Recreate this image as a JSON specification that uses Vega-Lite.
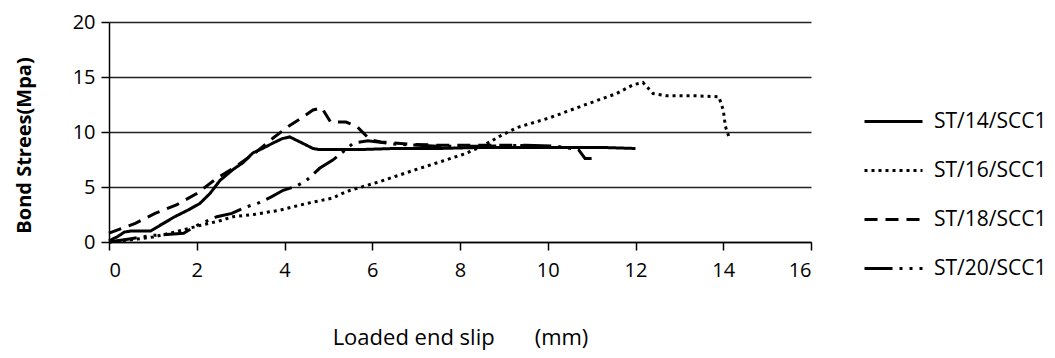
{
  "$schema": "https://vega.github.io/schema/vega-lite/v6.json",
  "width": 702,
  "height": 220,
  "autosize": {"type": "none"},
  "padding": {"left": 109, "top": 22, "right": 244, "bottom": 116},
  "background": "white",
  "config": {
    "view": {"stroke": null},
    "font": "Open Sans",
    "axis": {
      "domainColor": "#000000",
      "domainWidth": 1.5,
      "tickColor": "#000000",
      "tickWidth": 1.5,
      "tickSize": 8,
      "labelColor": "#000000",
      "labelFont": "Open Sans",
      "labelFontSize": 20,
      "titleColor": "#000000",
      "gridColor": "#222222",
      "gridWidth": 1.5,
      "gridOpacity": 1
    }
  },
  "data": {
    "values": [
      {"series": "ST/14/SCC1", "slip": 0.0, "stress": 0.1},
      {"series": "ST/14/SCC1", "slip": 0.2, "stress": 0.5},
      {"series": "ST/14/SCC1", "slip": 0.35, "stress": 0.9},
      {"series": "ST/14/SCC1", "slip": 0.5, "stress": 1.0},
      {"series": "ST/14/SCC1", "slip": 0.95, "stress": 1.0},
      {"series": "ST/14/SCC1", "slip": 1.2, "stress": 1.6},
      {"series": "ST/14/SCC1", "slip": 1.5, "stress": 2.3},
      {"series": "ST/14/SCC1", "slip": 1.8, "stress": 2.9},
      {"series": "ST/14/SCC1", "slip": 2.07, "stress": 3.5},
      {"series": "ST/14/SCC1", "slip": 2.3, "stress": 4.4},
      {"series": "ST/14/SCC1", "slip": 2.53, "stress": 5.6},
      {"series": "ST/14/SCC1", "slip": 2.83, "stress": 6.6},
      {"series": "ST/14/SCC1", "slip": 3.05, "stress": 7.2},
      {"series": "ST/14/SCC1", "slip": 3.28, "stress": 8.1},
      {"series": "ST/14/SCC1", "slip": 3.5, "stress": 8.5},
      {"series": "ST/14/SCC1", "slip": 3.74, "stress": 9.0},
      {"series": "ST/14/SCC1", "slip": 3.95, "stress": 9.4},
      {"series": "ST/14/SCC1", "slip": 4.12, "stress": 9.55},
      {"series": "ST/14/SCC1", "slip": 4.35, "stress": 9.1},
      {"series": "ST/14/SCC1", "slip": 4.65, "stress": 8.5},
      {"series": "ST/14/SCC1", "slip": 4.8, "stress": 8.4},
      {"series": "ST/14/SCC1", "slip": 5.3, "stress": 8.4},
      {"series": "ST/14/SCC1", "slip": 5.7, "stress": 8.4},
      {"series": "ST/14/SCC1", "slip": 6.5, "stress": 8.5},
      {"series": "ST/14/SCC1", "slip": 7.5, "stress": 8.5},
      {"series": "ST/14/SCC1", "slip": 8.5, "stress": 8.6},
      {"series": "ST/14/SCC1", "slip": 9.5, "stress": 8.6},
      {"series": "ST/14/SCC1", "slip": 10.5, "stress": 8.6},
      {"series": "ST/14/SCC1", "slip": 11.2, "stress": 8.6},
      {"series": "ST/14/SCC1", "slip": 12.0, "stress": 8.5},

      {"series": "ST/16/SCC1", "slip": 0.0, "stress": 0.0},
      {"series": "ST/16/SCC1", "slip": 0.5, "stress": 0.2},
      {"series": "ST/16/SCC1", "slip": 1.0, "stress": 0.45},
      {"series": "ST/16/SCC1", "slip": 1.5, "stress": 0.9},
      {"series": "ST/16/SCC1", "slip": 2.07, "stress": 1.5},
      {"series": "ST/16/SCC1", "slip": 2.5, "stress": 1.9},
      {"series": "ST/16/SCC1", "slip": 2.83, "stress": 2.3},
      {"series": "ST/16/SCC1", "slip": 3.3, "stress": 2.5},
      {"series": "ST/16/SCC1", "slip": 3.6, "stress": 2.7},
      {"series": "ST/16/SCC1", "slip": 3.9, "stress": 2.9},
      {"series": "ST/16/SCC1", "slip": 4.5, "stress": 3.5},
      {"series": "ST/16/SCC1", "slip": 5.1, "stress": 4.0},
      {"series": "ST/16/SCC1", "slip": 5.42, "stress": 4.6},
      {"series": "ST/16/SCC1", "slip": 6.18, "stress": 5.5},
      {"series": "ST/16/SCC1", "slip": 6.93, "stress": 6.5},
      {"series": "ST/16/SCC1", "slip": 7.4, "stress": 7.1},
      {"series": "ST/16/SCC1", "slip": 8.1, "stress": 8.0},
      {"series": "ST/16/SCC1", "slip": 8.5, "stress": 8.7},
      {"series": "ST/16/SCC1", "slip": 8.9, "stress": 9.6},
      {"series": "ST/16/SCC1", "slip": 9.3, "stress": 10.4},
      {"series": "ST/16/SCC1", "slip": 10.05, "stress": 11.3},
      {"series": "ST/16/SCC1", "slip": 10.8, "stress": 12.4},
      {"series": "ST/16/SCC1", "slip": 11.57, "stress": 13.5},
      {"series": "ST/16/SCC1", "slip": 11.95, "stress": 14.3},
      {"series": "ST/16/SCC1", "slip": 12.17, "stress": 14.5},
      {"series": "ST/16/SCC1", "slip": 12.4, "stress": 13.5},
      {"series": "ST/16/SCC1", "slip": 12.7, "stress": 13.3},
      {"series": "ST/16/SCC1", "slip": 13.3, "stress": 13.3},
      {"series": "ST/16/SCC1", "slip": 13.9, "stress": 13.2},
      {"series": "ST/16/SCC1", "slip": 14.0, "stress": 12.0},
      {"series": "ST/16/SCC1", "slip": 14.05, "stress": 10.5},
      {"series": "ST/16/SCC1", "slip": 14.15, "stress": 9.3},

      {"series": "ST/18/SCC1", "slip": 0.0, "stress": 0.8},
      {"series": "ST/18/SCC1", "slip": 0.6, "stress": 1.7},
      {"series": "ST/18/SCC1", "slip": 1.05, "stress": 2.6},
      {"series": "ST/18/SCC1", "slip": 1.55, "stress": 3.4},
      {"series": "ST/18/SCC1", "slip": 2.0, "stress": 4.4},
      {"series": "ST/18/SCC1", "slip": 2.46, "stress": 5.8},
      {"series": "ST/18/SCC1", "slip": 2.87, "stress": 6.8},
      {"series": "ST/18/SCC1", "slip": 3.33, "stress": 8.1},
      {"series": "ST/18/SCC1", "slip": 3.74, "stress": 9.45},
      {"series": "ST/18/SCC1", "slip": 4.12, "stress": 10.6},
      {"series": "ST/18/SCC1", "slip": 4.4, "stress": 11.3},
      {"series": "ST/18/SCC1", "slip": 4.65, "stress": 12.0},
      {"series": "ST/18/SCC1", "slip": 4.85, "stress": 12.2},
      {"series": "ST/18/SCC1", "slip": 5.05, "stress": 10.9},
      {"series": "ST/18/SCC1", "slip": 5.4, "stress": 10.9},
      {"series": "ST/18/SCC1", "slip": 5.65, "stress": 10.5},
      {"series": "ST/18/SCC1", "slip": 5.95, "stress": 9.3},
      {"series": "ST/18/SCC1", "slip": 6.2, "stress": 9.1},
      {"series": "ST/18/SCC1", "slip": 6.8, "stress": 8.9},
      {"series": "ST/18/SCC1", "slip": 7.5, "stress": 8.8},
      {"series": "ST/18/SCC1", "slip": 8.3, "stress": 8.8},
      {"series": "ST/18/SCC1", "slip": 9.2, "stress": 8.8},
      {"series": "ST/18/SCC1", "slip": 9.8, "stress": 8.7},

      {"series": "ST/20/SCC1", "slip": 0.0, "stress": 0.0},
      {"series": "ST/20/SCC1", "slip": 0.5, "stress": 0.3},
      {"series": "ST/20/SCC1", "slip": 1.0, "stress": 0.6},
      {"series": "ST/20/SCC1", "slip": 1.7, "stress": 0.8},
      {"series": "ST/20/SCC1", "slip": 2.0, "stress": 1.5},
      {"series": "ST/20/SCC1", "slip": 2.46, "stress": 2.3},
      {"series": "ST/20/SCC1", "slip": 2.8, "stress": 2.6},
      {"series": "ST/20/SCC1", "slip": 3.14, "stress": 3.2},
      {"series": "ST/20/SCC1", "slip": 3.44, "stress": 3.6},
      {"series": "ST/20/SCC1", "slip": 3.7, "stress": 4.1},
      {"series": "ST/20/SCC1", "slip": 3.97, "stress": 4.7},
      {"series": "ST/20/SCC1", "slip": 4.28, "stress": 5.1},
      {"series": "ST/20/SCC1", "slip": 4.5, "stress": 5.6},
      {"series": "ST/20/SCC1", "slip": 4.8, "stress": 6.7},
      {"series": "ST/20/SCC1", "slip": 5.1, "stress": 7.45},
      {"series": "ST/20/SCC1", "slip": 5.4, "stress": 8.4},
      {"series": "ST/20/SCC1", "slip": 5.57, "stress": 9.0},
      {"series": "ST/20/SCC1", "slip": 5.9, "stress": 9.2},
      {"series": "ST/20/SCC1", "slip": 6.5, "stress": 8.9},
      {"series": "ST/20/SCC1", "slip": 7.5, "stress": 8.7},
      {"series": "ST/20/SCC1", "slip": 8.5, "stress": 8.7},
      {"series": "ST/20/SCC1", "slip": 9.5, "stress": 8.8},
      {"series": "ST/20/SCC1", "slip": 10.2, "stress": 8.7},
      {"series": "ST/20/SCC1", "slip": 10.7, "stress": 8.4},
      {"series": "ST/20/SCC1", "slip": 10.85, "stress": 7.6},
      {"series": "ST/20/SCC1", "slip": 11.0, "stress": 7.6}
    ]
  },
  "mark": {"type": "line", "color": "#000000", "strokeWidth": 3, "strokeCap": "butt"},
  "encoding": {
    "x": {
      "field": "slip",
      "type": "quantitative",
      "scale": {"domain": [0, 16], "nice": false},
      "axis": {
        "values": [0, 2, 4, 6, 8, 10, 12, 14, 16],
        "grid": false,
        "labelPadding": 10,
        "title": "Loaded end slip\u00a0\u00a0\u00a0\u00a0\u00a0\u00a0\u00a0(mm)",
        "titleFont": "Open Sans",
        "titleFontSize": 22,
        "titleFontWeight": "normal",
        "titleX": 351,
        "titleY": 95,
        "titleAlign": "center",
        "titleBaseline": "middle"
      }
    },
    "y": {
      "field": "stress",
      "type": "quantitative",
      "scale": {"domain": [0, 20], "nice": false},
      "axis": {
        "values": [0, 5, 10, 15, 20],
        "grid": true,
        "labelPadding": 6,
        "title": "Bond Strees(Mpa)",
        "titleFont": "Open Sans",
        "titleFontSize": 20,
        "titleFontWeight": "bold",
        "titleAngle": 270,
        "titleX": -85,
        "titleY": 123,
        "titleAlign": "center",
        "titleBaseline": "middle"
      }
    },
    "strokeDash": {
      "field": "series",
      "type": "nominal",
      "scale": {
        "domain": ["ST/14/SCC1", "ST/16/SCC1", "ST/18/SCC1", "ST/20/SCC1"],
        "range": [[1, 0], [3, 4], [13, 8], [28, 7, 3, 7, 3, 7]]
      },
      "legend": {
        "title": null,
        "orient": "none",
        "legendX": 754,
        "legendY": 69,
        "padding": 0,
        "symbolType": "stroke",
        "symbolSize": 3364,
        "symbolStrokeWidth": 3,
        "symbolStrokeColor": "#000000",
        "labelFont": "Open Sans",
        "labelFontSize": 21,
        "labelColor": "#000000",
        "labelOffset": 10,
        "rowPadding": 8
      }
    }
  }
}
